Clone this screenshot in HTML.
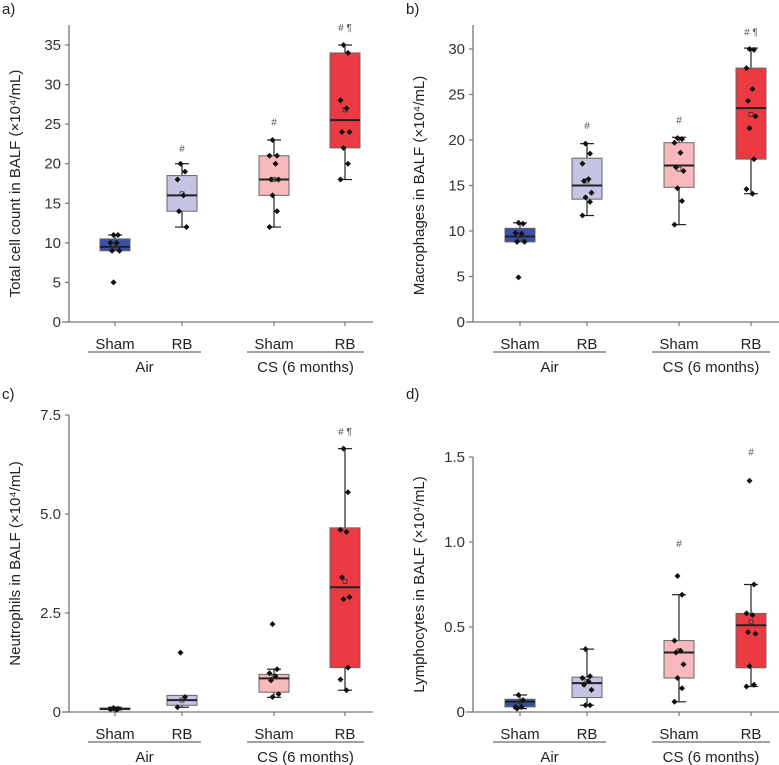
<!DOCTYPE html>
<html><head><meta charset="utf-8"><style>
html,body{margin:0;padding:0;background:#fff;}
svg{display:block;font-family:"Liberation Sans","DejaVu Sans",sans-serif;}
</style></head><body>
<svg id="fig" width="779" height="765" viewBox="0 0 779 765" xmlns="http://www.w3.org/2000/svg"></svg>
<script>
// ---- data ----
const groupLabels = ["Sham","RB","Sham","RB"];
const exposureLabels = ["Air","CS (6 months)"];
// panel a: total cells
const aQ1=[9,14,16,22], aMed=[9.5,16,18,25.5], aQ3=[10.5,18.5,21,34], aLo=[9,12,12,18], aHi=[11,20,23,35], aMean=[9.4,16.2,18,26.8];
const aPts=[[11,11,10,10,9,9,5],[20,19,18,16,14,12],[23,21,21,20,18,18,16,14,12],[35,34,28,27,24,24,22,20,18]];
const aSig=["","#","#","# ¶"], aSigY=[0,21.5,24.8,36.8];
const aTicks=[0,5,10,15,20,25,30,35], aTickLabels=["0","5","10","15","20","25","30","35"];
// panel b: macrophages
const bQ1=[8.8,13.5,14.8,17.9], bMed=[9.4,15,17.2,23.5], bQ3=[10.3,18,19.7,27.9], bLo=[8.8,11.7,10.7,14.1], bHi=[10.9,19.6,20.3,30.1], bMean=[9.2,15.5,16.8,22.8];
const bPts=[[10.9,10.8,9.8,9.7,8.8,8.8,4.9],[19.6,18.5,17.4,15.7,15.5,14.2,13.7,13.2,11.7],[20.2,20.1,19.7,18.6,17,16.6,14.7,13.3,10.7],[30,29.9,27.9,25.6,24.3,22.6,21.3,17.9,14.6,14.1]];
const bSig=["","#","#","# ¶"], bSigY=[0,21.2,21.8,31.5];
const bTicks=[0,5,10,15,20,25,30], bTickLabels=["0","5","10","15","20","25","30"];
// panel c: neutrophils
const cQ1=[0.06,0.17,0.5,1.12], cMed=[0.08,0.3,0.85,3.15], cQ3=[0.1,0.42,0.95,4.65], cLo=[0.05,0.12,0.37,0.55], cHi=[0.12,0.38,1.08,6.65], cMean=[0.08,0.3,0.9,3.3];
const cPts=[[0.1,0.08,0.07,0.06],[1.5,0.38,0.12],[2.22,1.08,0.98,0.9,0.8,0.45,0.38],[6.65,5.55,4.6,4.55,3.4,2.9,2.85,1.12,0.82,0.55]];
const cSig=["","","","# ¶"], cSigY=[0,0,0,7.0];
const cTicks=[0,2.5,5,7.5], cTickLabels=["0","2.5","5.0","7.5"];
// panel d: lymphocytes
const dQ1=[0.03,0.085,0.2,0.26], dMed=[0.06,0.17,0.35,0.51], dQ3=[0.075,0.205,0.42,0.58], dLo=[0.02,0.04,0.06,0.15], dHi=[0.1,0.37,0.69,0.75], dMean=[0.06,0.18,0.36,0.53];
const dPts=[[0.1,0.07,0.03,0.03,0.02],[0.37,0.21,0.2,0.18,0.16,0.13,0.04,0.04],[0.8,0.69,0.42,0.36,0.35,0.28,0.2,0.14,0.06],[1.36,0.75,0.58,0.57,0.47,0.46,0.27,0.16,0.15]];
const dSig=["","","#","#"], dSigY=[0,0,0.97,1.51];
const dTicks=[0,0.5,1,1.5], dTickLabels=["0","0.5","1.0","1.5"];

const fills=["#3b4fa6","#c5c4e4","#f7b9bb","#ec3a43"];
const NS="http://www.w3.org/2000/svg";
const svg=document.getElementById("fig");
function mk(tag,attrs,parent){const e=document.createElementNS(NS,tag);for(const k in attrs)e.setAttribute(k,attrs[k]);(parent||svg).appendChild(e);return e;}

function panel(p){
  const g=mk("g",{});
  
  
  const y=v=>p.y0+(p.y1-p.y0)*(v-p.vmin)/(p.vmax-p.vmin);
  const lbl=mk("text",{x:p.ax-67,y:p.top0+14,"font-size":15,fill:"#222"},g);lbl.textContent=p.id+")";
  
  
  const ya=mk("line",{x1:p.ax,y1:p.axTop,x2:p.ax,y2:p.y0,stroke:"#777","stroke-width":1.3},g);
  
  
  const xa=mk("line",{x1:p.ax-7,y1:p.y0,x2:p.axRight,y2:p.y0,stroke:"#777","stroke-width":1.3},g);
  
  
  p.ticks.forEach((t,i)=>{
    mk("line",{x1:p.ax-4,y1:y(t),x2:p.ax,y2:y(t),stroke:"#777","stroke-width":1.2},g);
    const tl=mk("text",{x:p.ax-8,y:y(t)+5,"font-size":15,"text-anchor":"end",fill:"#333"},g);
    tl.textContent=p.tickLabels[i];
    
    
  });
  const cy=(p.y0+p.y1)/2;
  const yt=mk("text",{x:p.titleX,y:cy,"font-size":15,"text-anchor":"middle",fill:"#222",transform:`rotate(-90 ${p.titleX} ${cy})`},g);
  yt.textContent=p.title;
  
  
  p.xs.forEach((x,i)=>{
    mk("line",{x1:x,y1:p.y0,x2:x,y2:p.y0+4,stroke:"#777","stroke-width":1.2},g);
    const bx=mk("g",{},g);
    
    
    const w=15;
    mk("line",{x1:x,y1:y(p.lo[i]),x2:x,y2:y(p.hi[i]),stroke:"#222","stroke-width":1.2},bx);
    mk("line",{x1:x-7,y1:y(p.lo[i]),x2:x+7,y2:y(p.lo[i]),stroke:"#222","stroke-width":1.2},bx);
    mk("line",{x1:x-7,y1:y(p.hi[i]),x2:x+7,y2:y(p.hi[i]),stroke:"#222","stroke-width":1.2},bx);
    mk("rect",{x:x-w,y:y(p.q3[i]),width:2*w,height:Math.max(1,y(p.q1[i])-y(p.q3[i])),fill:fills[i],stroke:"#666","stroke-width":1},bx);
    mk("line",{x1:x-w,y1:y(p.med[i]),x2:x+w,y2:y(p.med[i]),stroke:"#222","stroke-width":2},bx);
    mk("rect",{x:x-2,y:y(p.mean[i])-2,width:4,height:4,fill:"none",stroke:"#333","stroke-width":0.8},bx);
    p.pts[i].forEach((v,j)=>{
      const jx=x+((j%2)?3:-3)*((j%3)+1)/2;
      const py=y(v);
      const d=mk("polygon",{points:`${jx},${py-3} ${jx+3},${py} ${jx},${py+3} ${jx-3},${py}`,fill:"#111"},bx);
      
      
    });
    if(p.sig[i]){
      const s=mk("text",{x:x,y:y(p.sigY[i]),"font-size":10,"text-anchor":"middle",fill:"#555"},g);
      s.textContent=p.sig[i];
      
      
    }
    const xl=mk("text",{x:x,y:p.y0+27,"font-size":15,"text-anchor":"middle",fill:"#222"},g);
    xl.textContent=groupLabels[i];
    
    
  });
  [[0,1],[2,3]].forEach((pr,k)=>{
    const x1=p.xs[pr[0]]-27,x2=p.xs[pr[1]]+19;
    mk("line",{x1:x1,y1:p.y0+30,x2:x2,y2:p.y0+30,stroke:"#444","stroke-width":1},g);
    const el=mk("text",{x:(x1+x2)/2,y:p.y0+50,"font-size":15,"text-anchor":"middle",fill:"#222"},g);
    el.textContent=exposureLabels[k];
    
    
  });
}
const xsL=[115,182,274,345], xsR=[520,587,679,751];
panel({id:"a",top0:0,ax:69,axTop:25,axRight:373,y0:322,y1:45,vmin:0,vmax:35,xs:xsL,titleX:20,title:"Total cell count in BALF (×10⁴/mL)",ticks:aTicks,tickLabels:aTickLabels,q1:aQ1,med:aMed,q3:aQ3,lo:aLo,hi:aHi,mean:aMean,pts:aPts,sig:aSig,sigY:aSigY});
panel({id:"b",top0:0,ax:473,axTop:25,axRight:779,y0:322,y1:49,vmin:0,vmax:30,xs:xsR,titleX:424,title:"Macrophages in BALF (×10⁴/mL)",ticks:bTicks,tickLabels:bTickLabels,q1:bQ1,med:bMed,q3:bQ3,lo:bLo,hi:bHi,mean:bMean,pts:bPts,sig:bSig,sigY:bSigY});
panel({id:"c",top0:385,ax:69,axTop:415,axRight:373,y0:712,y1:415,vmin:0,vmax:7.5,xs:xsL,titleX:20,title:"Neutrophils in BALF (×10⁴/mL)",ticks:cTicks,tickLabels:cTickLabels,q1:cQ1,med:cMed,q3:cQ3,lo:cLo,hi:cHi,mean:cMean,pts:cPts,sig:cSig,sigY:cSigY});
panel({id:"d",top0:385,ax:473,axTop:457,axRight:779,y0:712,y1:457,vmin:0,vmax:1.5,xs:xsR,titleX:424,title:"Lymphocytes in BALF (×10⁴/mL)",ticks:dTicks,tickLabels:dTickLabels,q1:dQ1,med:dMed,q3:dQ3,lo:dLo,hi:dHi,mean:dMean,pts:dPts,sig:dSig,sigY:dSigY});
</script>
</body></html>
